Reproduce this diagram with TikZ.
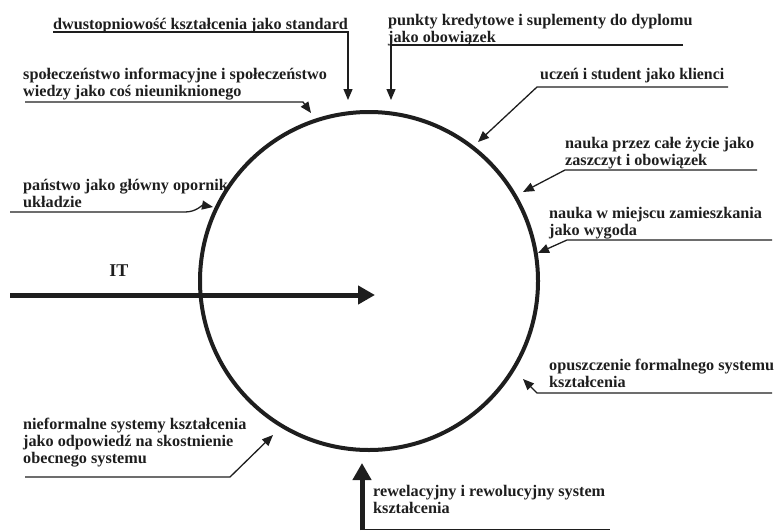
\documentclass[tikz,border=0pt]{standalone}
\usepackage{fontspec}
\setmainfont{Liberation Serif}
\usepackage{graphicx}
\usepackage{tikz}
\usetikzlibrary{arrows.meta}
\definecolor{InkBlack}{HTML}{1E1E1E}
\tikzset{>={Triangle[length=11pt,width=9pt]}}
\tikzset{
    topic/.style={font=\fontsize{16.2}{17}\selectfont\bfseries, align=left,
        inner sep=0pt, anchor=base west, text=InkBlack},
    underline/.style={line width=1pt, draw=InkBlack},
    pointer/.style={->, line width=1.3pt, draw=InkBlack},
    bigpointer/.style={-{Triangle[length=17pt,width=18pt]}, line width=5pt, draw=InkBlack},
}
% a line of text set wider, keeping its height
\newcommand{\wideline}[2]{\resizebox{#1}{\height}{#2}}

\begin{document}
\begin{tikzpicture}[x=1pt,y=-1pt]
    \useasboundingbox (0,0) rectangle (775,530);
    % the circle
    \node[draw=InkBlack, circle, line width=4pt, minimum size=338pt, inner sep=0pt] (ring) at (369,281) {};

    % labels round the circle (placed by the baseline of their last line)
    \node[topic] (dwu) at (53,29) {dwustopniowość kształcenia jako standard};
    \node[topic] (pkt) at (388,42) {punkty kredytowe i suplementy do dyplomu\\jako obowiązek};
    \node[topic] (ucz) at (540,79) {\wideline{184pt}{uczeń i student jako klienci}};
    \node[topic] (lll) at (565,165) {\wideline{189pt}{nauka przez całe życie jako}\\\wideline{142pt}{zaszczyt i obowiązek}};
    \node[topic] (dom) at (549,235) {nauka w miejscu zamieszkania\\jako wygoda};
    \node[topic] (opu) at (549,387) {opuszczenie formalnego systemu\\kształcenia};
    \node[topic] (rew) at (373,513) {rewelacyjny i rewolucyjny system\\kształcenia};
    \node[topic] (nie) at (23,463) {nieformalne systemy kształcenia\\jako odpowiedź na skostnienie\\obecnego systemu};
    \node[topic] (pan) at (23,207) {państwo jako główny opornik\\układzie};
    \node[topic] (spo) at (23,96) {społeczeństwo informacyjne i społeczeństwo\\wiedzy jako coś nieuniknionego};
    \node[topic, font=\fontsize{18}{20}\selectfont\bfseries, anchor=center] (it) at (119,271) {IT};

    % underline ends and arrow tips
    \coordinate (dwu-a) at (53,32);   \coordinate (dwu-b) at (348,32);  \coordinate (dwu-tip) at (348,100);
    \coordinate (pkt-a) at (683,45);  \coordinate (pkt-b) at (391,45);  \coordinate (pkt-tip) at (391,100);
    \coordinate (ucz-a) at (728,87);  \coordinate (ucz-b) at (537,87);  \coordinate (ucz-tip) at (478,142);
    \coordinate (lll-a) at (757,170); \coordinate (lll-b) at (565,170); \coordinate (lll-tip) at (523,192);
    \coordinate (dom-a) at (772,240); \coordinate (dom-b) at (567,240); \coordinate (dom-tip) at (538,253);
    \coordinate (opu-a) at (772,393); \coordinate (opu-b) at (537,393); \coordinate (opu-tip) at (523,379);
    \coordinate (nie-a) at (25,477);  \coordinate (nie-b) at (230,477); \coordinate (nie-tip) at (273,435);
    \coordinate (pan-a) at (10,212);  \coordinate (pan-b) at (185,212); \coordinate (pan-tip) at (213,207);
    \coordinate (spo-a) at (25,102);  \coordinate (spo-b) at (303,102); \coordinate (spo-tip) at (311,113);
    \coordinate (rew-a) at (362,529); \coordinate (rew-b) at (610,529);
    \coordinate (rew-foot) at (362,530); \coordinate (rew-tip) at (362,463);
    \coordinate (it-a) at (10,295);   \coordinate (it-tip) at (375,295);

    % connectors
    \foreach \n in {dwu,pkt,ucz,lll,dom,opu,nie,spo}
        \draw[pointer] (\n-a) -- (\n-b) -- (\n-tip);
    \draw[pointer] (pan-a) -- (pan-b) to[out=0,in=170] (pan-tip);
    \draw[underline] (rew-a) -- (rew-b);
    \draw[bigpointer] (rew-foot) -- (rew-tip);
    \draw[bigpointer] (it-a) -- (it-tip);
\end{tikzpicture}
\end{document}
